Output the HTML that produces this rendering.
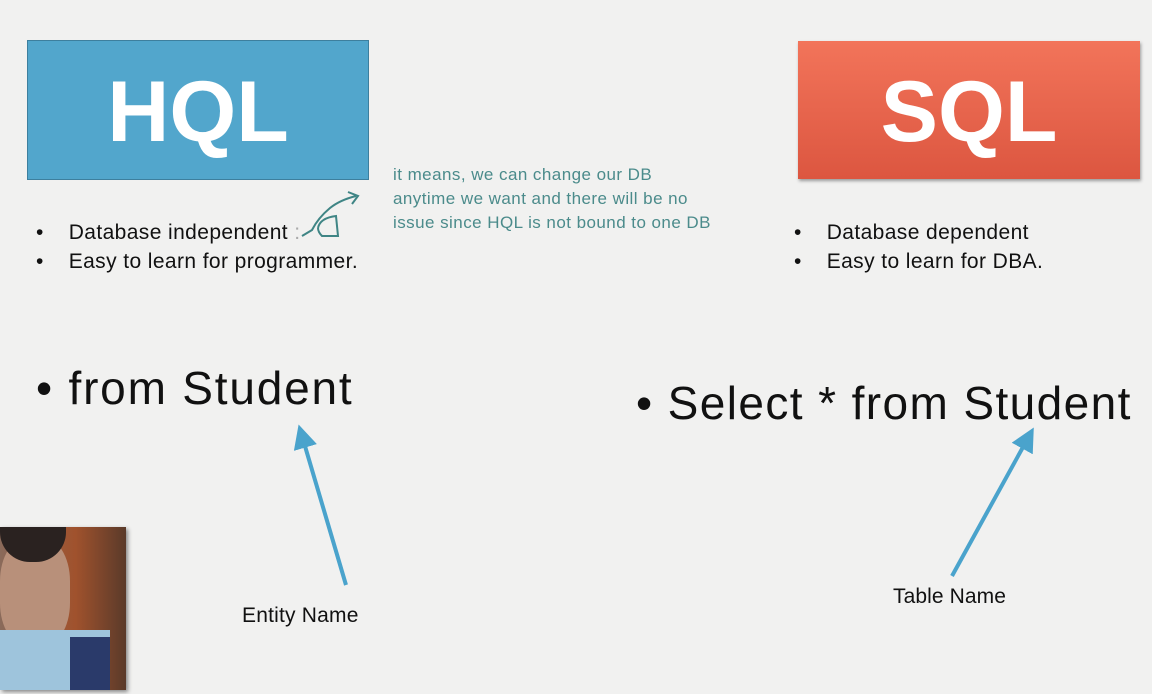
<!DOCTYPE html>
<html><head><meta charset="utf-8"><style>
body{margin:0;width:1152px;height:694px;background:#f1f1f0;position:relative;overflow:hidden;font-family:"Liberation Sans",sans-serif;color:#111}
.a{position:absolute;white-space:nowrap}
.box{position:absolute;color:#fff;font-weight:bold;font-size:86px;text-align:center;letter-spacing:0px}
</style></head><body>
<div class="box" style="left:27px;top:40px;width:340px;height:138px;line-height:142px;background:#52a6cc;border:1px solid #3d7f9e">HQL</div>
<div class="box" style="left:798px;top:41px;width:342px;height:138px;line-height:142px;background:linear-gradient(#f2745a,#dc5640);box-shadow:1px 2px 3px #999">SQL</div>
<div class="a" style="left:393px;top:163px;font-size:17px;line-height:24px;color:#4b8b8b;letter-spacing:0.45px">it means, we can change our DB<br>anytime we want and there will be no<br>issue since HQL is not bound to one DB</div>
<div class="a" style="left:36px;top:218px;font-size:21px;line-height:29px;letter-spacing:0.4px">•&nbsp;&nbsp;&nbsp;&nbsp;Database independent <span style="color:#aaa">:</span><br>•&nbsp;&nbsp;&nbsp;&nbsp;Easy to learn for programmer.</div>
<div class="a" style="left:794px;top:218px;font-size:21px;line-height:29px;letter-spacing:0.4px">•&nbsp;&nbsp;&nbsp;&nbsp;Database dependent<br>•&nbsp;&nbsp;&nbsp;&nbsp;Easy to learn for DBA.</div>
<div class="a" style="left:36px;top:360px;font-size:46px;line-height:56px;letter-spacing:1.8px">• from Student</div>
<div class="a" style="left:636px;top:375px;font-size:46px;line-height:56px;letter-spacing:1.4px">• Select * from Student</div>
<div class="a" style="left:242px;top:604px;font-size:21px;letter-spacing:0.2px">Entity Name</div>
<div class="a" style="left:893px;top:585px;font-size:21px;letter-spacing:0.1px">Table Name</div>
<svg class="a" style="left:0;top:0" width="1152" height="694">
<defs><marker id="m" markerWidth="6" markerHeight="6" refX="3" refY="3" orient="auto"><path d="M0,0L6,3L0,6z" fill="#4aa3cc"/></marker></defs>
<line x1="346" y1="585" x2="302" y2="436" stroke="#4aa3cc" stroke-width="4" marker-end="url(#m)"/>
<line x1="952" y1="576" x2="1028" y2="438" stroke="#4aa3cc" stroke-width="4" marker-end="url(#m)"/>
<path d="M302,236 L312,230 Q318,218 330,208 Q340,200 356,196 M348,192 L358,196 L352,204 M318,228 Q320,218 336,216 L338,236 L322,236 Q318,232 318,228" fill="none" stroke="#3f8585" stroke-width="2"/>
</svg>
<div class="a" style="left:0;top:527px;width:126px;height:163px;background:linear-gradient(90deg,#8a6a5a 0%,#a0522d 60%,#5a3a2a 100%);box-shadow:2px 2px 4px #888;overflow:hidden">
<div class="a" style="left:0;top:10px;width:70px;height:110px;background:#b8907a;border-radius:40%"></div>
<div class="a" style="left:0;top:0;width:66px;height:35px;background:#2a2220;border-radius:0 0 30px 30px"></div>
<div class="a" style="left:0;top:103px;width:110px;height:60px;background:#9ec4dc"></div>
<div class="a" style="left:70px;top:110px;width:40px;height:53px;background:#2a3a6a"></div>
</div>
</body></html>
